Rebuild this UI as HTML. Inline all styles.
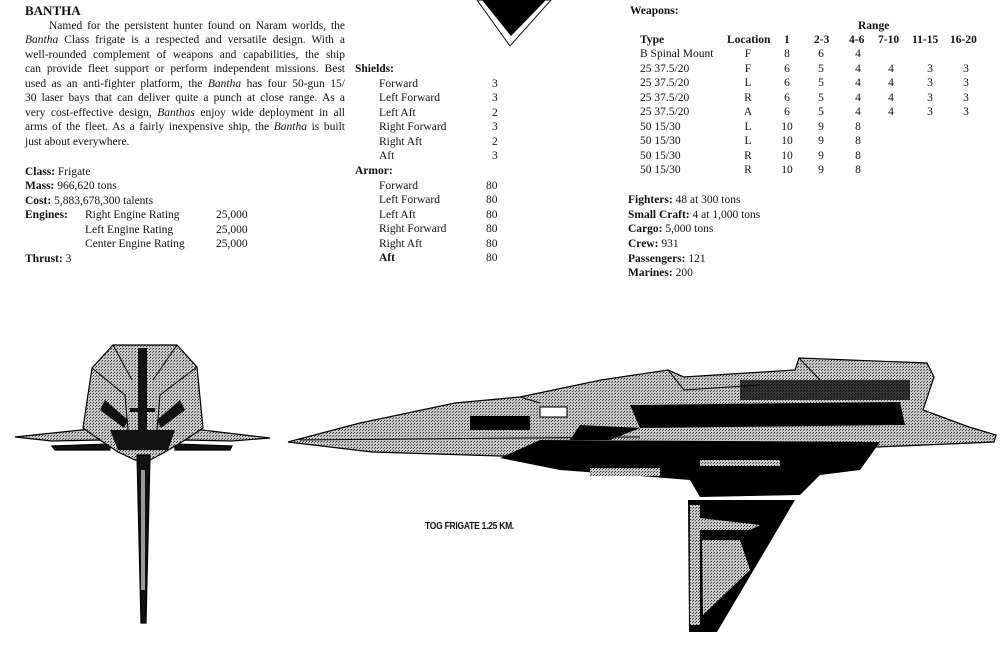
<!DOCTYPE html>
<html><head><meta charset="utf-8"><style>
html,body{margin:0;padding:0;background:#fff;}
body{width:1001px;height:648px;position:relative;overflow:hidden;font-family:"Liberation Serif",serif;font-size:11.5px;color:#111;}
.t{position:absolute;white-space:nowrap;line-height:14px;}
.p{position:absolute;left:25px;width:320px;white-space:nowrap;line-height:14px;text-align:justify;text-align-last:justify;}
b{font-weight:bold;}
.c{text-align:center;}
</style></head><body>

<div class="t" style="left:25px;top:4px;font-weight:bold;font-size:13px;">BANTHA</div>
<div class="p" style="top:19px;left:49px;width:296px;">Named for the persistent hunter found on Naram worlds, the</div>
<div class="p" style="top:33px;"><i>Bantha</i> Class frigate is a respected and versatile design. With a</div>
<div class="p" style="top:48px;">well-rounded complement of weapons and capabilities, the ship</div>
<div class="p" style="top:62px;">can provide fleet support or perform independent missions. Best</div>
<div class="p" style="top:77px;">used as an anti-fighter platform, the <i>Bantha</i> has four 50-gun 15/</div>
<div class="p" style="top:91px;">30 laser bays that can deliver quite a punch at close range. As a</div>
<div class="p" style="top:106px;">very cost-effective design, <i>Banthas</i> enjoy wide deployment in all</div>
<div class="p" style="top:120px;">arms of the fleet. As a fairly inexpensive ship, the <i>Bantha</i> is built</div>
<div class="t" style="left:25px;top:135px;">just about everywhere.</div>

<div class="t" style="left:25px;top:165px;"><b>Class:</b> Frigate</div>
<div class="t" style="left:25px;top:179px;"><b>Mass:</b> 966,620 tons</div>
<div class="t" style="left:25px;top:194px;"><b>Cost:</b> 5,883,678,300 talents</div>
<div class="t" style="left:25px;top:208px;"><b>Engines:</b></div>
<div class="t" style="left:85px;top:208px;">Right Engine Rating</div>
<div class="t" style="left:85px;top:223px;">Left Engine Rating</div>
<div class="t" style="left:85px;top:237px;">Center Engine Rating</div>
<div class="t" style="left:216px;top:208px;">25,000</div>
<div class="t" style="left:216px;top:223px;">25,000</div>
<div class="t" style="left:216px;top:237px;">25,000</div>
<div class="t" style="left:25px;top:252px;"><b>Thrust:</b> 3</div>

<svg style="position:absolute;left:0;top:0" width="1001" height="648">
<polygon points="477,0 551,0 510,46" fill="none" stroke="#111" stroke-width="1"/>
<polygon points="482,0 546,0 511,36" fill="#000"/>
</svg>

<div class="t" style="left:355px;top:62px;font-weight:bold;">Shields:</div>
<div class="t" style="left:379px;top:77px;">Forward</div>
<div class="t" style="left:379px;top:91px;">Left Forward</div>
<div class="t" style="left:379px;top:106px;">Left Aft</div>
<div class="t" style="left:379px;top:120px;">Right Forward</div>
<div class="t" style="left:379px;top:135px;">Right Aft</div>
<div class="t" style="left:379px;top:149px;">Aft</div>
<div class="t" style="left:492px;top:77px;">3</div>
<div class="t" style="left:492px;top:91px;">3</div>
<div class="t" style="left:492px;top:106px;">2</div>
<div class="t" style="left:492px;top:120px;">3</div>
<div class="t" style="left:492px;top:135px;">2</div>
<div class="t" style="left:492px;top:149px;">3</div>
<div class="t" style="left:355px;top:164px;font-weight:bold;">Armor:</div>
<div class="t" style="left:379px;top:179px;">Forward</div>
<div class="t" style="left:379px;top:193px;">Left Forward</div>
<div class="t" style="left:379px;top:208px;">Left Aft</div>
<div class="t" style="left:379px;top:222px;">Right Forward</div>
<div class="t" style="left:379px;top:237px;">Right Aft</div>
<div class="t" style="left:379px;top:251px;font-weight:bold;">Aft</div>
<div class="t" style="left:486px;top:179px;">80</div>
<div class="t" style="left:486px;top:193px;">80</div>
<div class="t" style="left:486px;top:208px;">80</div>
<div class="t" style="left:486px;top:222px;">80</div>
<div class="t" style="left:486px;top:237px;">80</div>
<div class="t" style="left:486px;top:251px;">80</div>

<div class="t" style="left:630px;top:4px;font-weight:bold;">Weapons:</div>
<div class="t" style="left:858px;top:19px;font-weight:bold;">Range</div>
<div class="t" style="left:640px;top:33px;font-weight:bold;">Type</div>
<div class="t" style="left:727px;top:33px;font-weight:bold;">Location</div>
<div class="t" style="left:784px;top:33px;font-weight:bold;">1</div>
<div class="t" style="left:814px;top:33px;font-weight:bold;">2-3</div>
<div class="t" style="left:849px;top:33px;font-weight:bold;">4-6</div>
<div class="t" style="left:878px;top:33px;font-weight:bold;">7-10</div>
<div class="t" style="left:912px;top:33px;font-weight:bold;">11-15</div>
<div class="t" style="left:950px;top:33px;font-weight:bold;">16-20</div>

<div style="position:absolute;left:640px;top:47px;line-height:14.5px;">
B Spinal Mount<br>25 37.5/20<br>25 37.5/20<br>25 37.5/20<br>25 37.5/20<br>50 15/30<br>50 15/30<br>50 15/30<br>50 15/30</div>
<div class="c" style="position:absolute;left:740px;width:16px;top:47px;line-height:14.5px;">F<br>F<br>L<br>R<br>A<br>L<br>L<br>R<br>R</div>
<div class="c" style="position:absolute;left:778px;width:18px;top:47px;line-height:14.5px;">8<br>6<br>6<br>6<br>6<br>10<br>10<br>10<br>10</div>
<div class="c" style="position:absolute;left:815px;width:12px;top:47px;line-height:14.5px;">6<br>5<br>5<br>5<br>5<br>9<br>9<br>9<br>9</div>
<div class="c" style="position:absolute;left:852px;width:12px;top:47px;line-height:14.5px;">4<br>4<br>4<br>4<br>4<br>8<br>8<br>8<br>8</div>
<div class="c" style="position:absolute;left:885px;width:12px;top:47px;line-height:14.5px;">&nbsp;<br>4<br>4<br>4<br>4</div>
<div class="c" style="position:absolute;left:924px;width:12px;top:47px;line-height:14.5px;">&nbsp;<br>3<br>3<br>3<br>3</div>
<div class="c" style="position:absolute;left:960px;width:12px;top:47px;line-height:14.5px;">&nbsp;<br>3<br>3<br>3<br>3</div>

<div class="t" style="left:628px;top:193px;"><b>Fighters:</b> 48 at 300 tons</div>
<div class="t" style="left:628px;top:208px;"><b>Small Craft:</b> 4 at 1,000 tons</div>
<div class="t" style="left:628px;top:222px;"><b>Cargo:</b> 5,000 tons</div>
<div class="t" style="left:628px;top:237px;"><b>Crew:</b> 931</div>
<div class="t" style="left:628px;top:252px;"><b>Passengers:</b> 121</div>
<div class="t" style="left:628px;top:266px;"><b>Marines:</b> 200</div>

<div class="t" style="left:425px;top:520px;font-family:'Liberation Sans',sans-serif;font-weight:bold;font-size:10px;letter-spacing:-0.3px;transform:scaleX(0.85);transform-origin:left;">TOG FRIGATE 1.25 KM.</div>

<svg style="position:absolute;left:0;top:0" width="1001" height="648">
<defs>
<pattern id="dots" width="3" height="3" patternUnits="userSpaceOnUse">
<rect width="3" height="3" fill="#c8c8c8"/><rect x="0" y="0" width="1" height="1" fill="#333"/><rect x="2" y="1" width="1" height="1" fill="#555"/>
</pattern>
</defs>
<!-- top view -->
<g stroke="#000" stroke-width="1.2">
<polygon points="15,437 100,428 130,432 133,442 100,440 52,441" fill="url(#dots)"/>
<polygon points="270,438 185,428 155,432 152,442 185,440 232,441" fill="url(#dots)"/>
<polygon points="52,446 110,444 110,450 55,450" fill="#111"/>
<polygon points="232,446 175,444 175,450 230,450" fill="#111"/>
<polygon points="92,368 113,345 177,345 197,367 203,428 185,440 165,452 150,460 135,460 118,452 100,440 83,428" fill="url(#dots)"/>
<polygon points="137,455 150,455 146,623 141,623" fill="#111"/>
</g>
<g fill="#111">
<rect x="138" y="348" width="9" height="90"/>
<polygon points="105,400 128,420 124,428 100,410"/>
<polygon points="180,400 157,420 161,428 185,410"/>
<polygon points="110,430 175,430 168,450 118,450"/>
<rect x="130" y="408" width="25" height="4"/>
</g>
<g fill="none" stroke="#000" stroke-width="1">
<polyline points="92,368 125,395 128,430"/>
<polyline points="197,367 160,395 157,430"/>
<polyline points="113,345 132,380"/>
<polyline points="177,345 153,380"/>
</g>
<rect x="141" y="470" width="4" height="120" fill="#999"/>

<!-- side view -->
<polygon points="288,442 360,423 455,403 520,397 601,380 668,370 684,377 795,370 799,358 927,363 934,377 923,410 969,427 996,435 994,442 877,447 500,456 372,452" fill="url(#dots)" stroke="#000" stroke-width="1.2"/>
<g fill="#000">
<polygon points="630,405 900,402 905,425 640,428"/>
<polygon points="540,440 880,442 860,470 820,475 800,495 700,497 690,480 640,476 560,470 520,462 500,458"/>
<rect x="470" y="416" width="60" height="14"/>
<polygon points="580,425 640,428 610,440 570,440"/>
<polygon points="688,500 795,500 717,632 689,632"/>
<rect x="740" y="380" width="170" height="20" opacity="0.75"/>
</g>
<polygon points="700,518 760,525 750,530 700,530" fill="url(#dots)"/>
<polygon points="702,540 740,540 750,570 703,615" fill="url(#dots)"/>
<rect x="690" y="505" width="10" height="120" fill="url(#dots)"/>
<rect x="540" y="407" width="27" height="10" fill="#fff" stroke="#000"/>
<g fill="url(#dots)">
<rect x="590" y="468" width="70" height="8"/>
<rect x="700" y="460" width="80" height="6"/>
</g>
<g fill="none" stroke="#000" stroke-width="1">
<line x1="300" y1="440" x2="640" y2="437"/>
<line x1="520" y1="397" x2="540" y2="403"/>
<polyline points="668,370 684,390 760,385"/>
<polyline points="799,358 820,380"/>
</g>
</svg>
</body></html>
